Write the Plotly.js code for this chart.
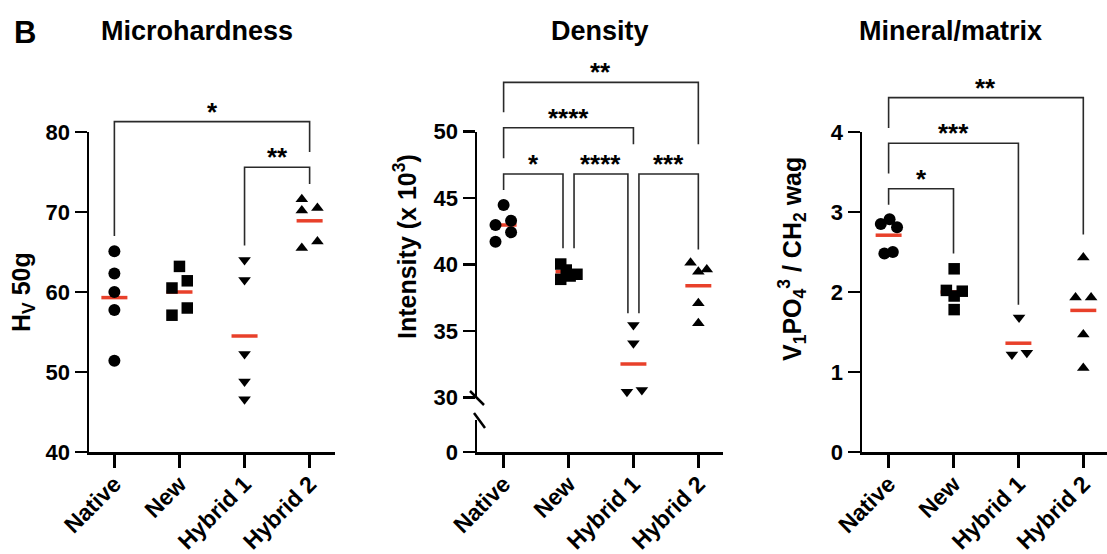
<!DOCTYPE html>
<html><head><meta charset="utf-8">
<script src="https://cdn.plot.ly/plotly-3.0.1.min.js"></script>
<style>html,body{margin:0;padding:0;background:#fff}</style>
</head><body><div id="chart" style="width:1107px;height:554px"></div>
<script>
// ---------- data ----------
const categories = ['Native', 'New', 'Hybrid 1', 'Hybrid 2'];
const panelTitles = ['Microhardness', 'Density', 'Mineral/matrix'];
const yTitles = ['H<sub>V</sub> 50g', 'Intensity (x 10<sup>3</sup>)', 'V<sub>1</sub>PO<sub>4</sub><sup>3</sup> / CH<sub>2</sub> wag'];

// Microhardness (HV 50g)
const hvNative  = [65.1, 62.3, 60.0, 57.75, 51.4];
const hvNew     = [63.2, 60.5, 61.4, 57.1, 58.0];
const hvHybrid1 = [64.0, 61.5, 52.25, 48.8, 46.6];
const hvHybrid2 = [71.6, 70.2, 70.5, 65.5, 66.3];
const hvMean    = [59.3, 60.0, 54.5, 68.9];
const hvTicks   = [40, 50, 60, 70, 80];

// Density (intensity x 10^3)
const dNative  = [44.49, 42.98, 43.31, 42.44, 41.73];
const dNew     = [40.05, 38.9, 39.6, 39.28, 39.15];
const dHybrid1 = [35.47, 34.09, 30.45, 30.58];
const dHybrid2 = [40.15, 39.47, 39.64, 37.1, 35.6];
const dMean    = [42.98, 39.47, 32.53, 38.42];
const dTicks   = [30, 35, 40, 45, 50];

// Mineral / matrix
const mNative  = [2.85, 2.91, 2.81, 2.48, 2.50];
const mNew     = [2.29, 2.02, 2.01, 1.95, 1.78];
const mHybrid1 = [1.68, 1.22, 1.24];
const mHybrid2 = [2.43, 1.93, 1.93, 1.47, 1.05];
const mMean    = [2.71, 2.0, 1.36, 1.77];
const mTicks   = [0, 1, 2, 3, 4];

// significance brackets (group index from, group index to, bar level, leg ends, label)
const hvBrFrom = [0, 2], hvBrTo = [3, 3];
const hvBrTop = [81.3, 75.6], hvBrEndL = [67.0, 65.8], hvBrEndR = [77.5, 73.5];
const hvBrLabel = ['*', '**'];

const dBrFrom = [0, 0, 0, 1, 2], dBrTo = [3, 2, 1, 2, 3];
const dBrTop = [53.71, 50.30, 46.82, 46.82, 46.82];
const dBrEndL = [51.46, 48.0, 45.62, 41.23, 36.35];
const dBrEndR = [49.05, 49.05, 41.23, 36.35, 41.15];
const dBrLabel = ['**', '****', '*', '****', '***'];

const mBrFrom = [0, 0, 0], mBrTo = [3, 2, 1];
const mBrTop = [4.43, 3.86, 3.29], mBrEndL = [4.05, 3.48, 3.09], mBrEndR = [2.72, 1.84, 2.48];
const mBrLabel = ['**', '***', '*'];

// horizontal jitter of the scatter dots (category units)
const hvJitter = [[0,0,0,0,0], [0,-0.115,0.12,-0.115,0.12], [0,0,0,0,0], [-0.12,-0.12,0.12,-0.12,0.12]];
const dJitter  = [[0,-0.125,0.115,0.115,-0.125], [-0.12,-0.12,-0.035,0.13,0.025], [0,0,-0.1,0.13], [-0.12,0,0.13,0,0]];
const mJitter  = [[-0.12,0.015,0.13,-0.065,0.065], [0.01,-0.11,0.135,0.01,0.01], [0.01,-0.1,0.13], [0,-0.12,0.12,0,0]];

// ---------- layout helpers ----------
const W = 1107, H = 554;
const FONT = 'Liberation Sans, Arial, Helvetica, sans-serif';
const px = x => x / W;
const py = y => 1 - y / H;
const symbols = ['circle', 'square', 'triangle-down', 'triangle-up'];
const sizes = [12, 11.5, 11, 11];
const RED = '#e8402a';
const BR = '#2a2a2a';

const panels = [
  {xa: 'x',  ya: 'y',  yo: 'y2', groups: [hvNative, hvNew, hvHybrid1, hvHybrid2], jitter: hvJitter, means: hvMean,
   from: hvBrFrom, to: hvBrTo, top: hvBrTop, endL: hvBrEndL, endR: hvBrEndR, label: hvBrLabel, legOff: 0},
  {xa: 'x2', ya: 'y3', yo: 'y5', groups: [dNative, dNew, dHybrid1, dHybrid2], jitter: dJitter, means: dMean,
   from: dBrFrom, to: dBrTo, top: dBrTop, endL: dBrEndL, endR: dBrEndR, label: dBrLabel, legOff: 0.085},
  {xa: 'x3', ya: 'y6', yo: 'y7', groups: [mNative, mNew, mHybrid1, mHybrid2], jitter: mJitter, means: mMean,
   from: mBrFrom, to: mBrTo, top: mBrTop, endL: mBrEndL, endR: mBrEndR, label: mBrLabel, legOff: 0}
];

const traces = [];
const annotations = [];

panels.forEach((p, pi) => {
  // mean lines
  const mx = [], my = [];
  p.means.forEach((m, i) => { mx.push(i - 0.2, i + 0.2, null); my.push(m, m, null); });
  traces.push({x: mx, y: my, xaxis: p.xa, yaxis: p.ya, mode: 'lines', line: {color: RED, width: 3.5},
               hoverinfo: 'skip', showlegend: false, cliponaxis: false});
  // dots
  p.groups.forEach((vals, gi) => {
    traces.push({
      x: vals.map((v, k) => gi + p.jitter[gi][k]), y: vals, xaxis: p.xa, yaxis: p.ya,
      mode: 'markers', cliponaxis: false, showlegend: false, hoverinfo: 'skip',
      marker: {symbol: symbols[gi], size: sizes[gi], color: '#000', line: {width: 0}}
    });
  });
  // brackets: legs are nudged apart where two brackets meet at the same group on one level
  const bx = [], by = [];
  p.from.forEach((a, i) => {
    const b = p.to[i];
    let xl = a, xr = b;
    if (p.legOff) {
      const lvl = p.top[i];
      p.from.forEach((a2, j) => { if (j !== i && p.top[j] === lvl) {
        if (a2 === b) xr = b - p.legOff;
        if (p.to[j] === a) xl = a + p.legOff;
      }});
    }
    bx.push(xl, xl, xr, xr, null);
    by.push(p.endL[i], p.top[i], p.top[i], p.endR[i], null);
    annotations.push({x: (xl + xr) / 2, y: p.top[i], xref: p.xa, yref: p.yo, text: p.label[i],
      showarrow: false, xanchor: 'center', yanchor: 'bottom', yshift: -7,
      font: {family: FONT, size: 26, color: '#000', weight: 'bold'}});
  });
  traces.push({x: bx, y: by, xaxis: p.xa, yaxis: p.yo, mode: 'lines', line: {color: BR, width: 1.6},
               hoverinfo: 'skip', showlegend: false});
});
// helper so the short lower segment of the broken density axis gets its own subplot
traces.push({x: [null], y: [null], xaxis: 'x2', yaxis: 'y4', mode: 'markers', showlegend: false, hoverinfo: 'skip'});

// ---------- axes ----------
const tickFont = {family: FONT, size: 22, color: '#000', weight: 'bold'};
const xTickFont = {family: FONT, size: 23, color: '#000', weight: 'bold'};
const yBot = py(452), yTop = py(132);
const baseX = {showline: true, linewidth: 2.5, linecolor: '#000', ticks: 'outside', ticklen: 13, tickwidth: 2.5,
  tickcolor: '#000', tickvals: [0, 1, 2, 3], ticktext: categories, tickangle: -45, tickfont: xTickFont,
  ticklabelstandoff: -6, showgrid: false, zeroline: false, fixedrange: true};
const baseY = {showline: true, linewidth: 2.5, linecolor: '#000', ticks: 'outside', ticklen: 12, tickwidth: 2.5,
  tickcolor: '#000', tickfont: tickFont, showgrid: false, zeroline: false, fixedrange: true};
const hidden = {visible: false, showgrid: false, zeroline: false, fixedrange: true};

const dUpBot = py(397.7), dUpTop = py(131.7), dLowTop = py(420);

const layout = {
  width: W, height: H, autosize: false,
  margin: {l: 0, r: 0, t: 0, b: 0},
  paper_bgcolor: '#fff', plot_bgcolor: 'rgba(0,0,0,0)',
  showlegend: false,
  font: {family: FONT, color: '#000'},
  xaxis:  Object.assign({}, baseX, {domain: [px(89), px(335)], range: [-0.39, 3.39], anchor: 'y'}),
  yaxis:  Object.assign({}, baseY, {domain: [yBot, yTop], range: [hvTicks[0], hvTicks[hvTicks.length - 1]], tickvals: hvTicks, anchor: 'x'}),
  yaxis2: Object.assign({}, hidden, {domain: [yBot, 1], range: [40, 40 + 40 * (1 - yBot) / (yTop - yBot)], anchor: 'x'}),

  xaxis2: Object.assign({}, baseX, {domain: [px(477), px(723)], range: [-0.41, 3.38], anchor: 'y4'}),
  yaxis3: Object.assign({}, baseY, {domain: [dUpBot, dUpTop], range: [30, 50], tickvals: dTicks, anchor: 'x2'}),
  yaxis4: Object.assign({}, baseY, {domain: [yBot, dLowTop], range: [0, 5], tickvals: [0], anchor: 'x2'}),
  yaxis5: Object.assign({}, hidden, {domain: [dUpBot, 1], range: [30, 30 + 20 * (1 - dUpBot) / (dUpTop - dUpBot)], anchor: 'x2'}),

  xaxis3: Object.assign({}, baseX, {domain: [px(862), 1], range: [-0.41, 3.365], anchor: 'y6'}),
  yaxis6: Object.assign({}, baseY, {domain: [yBot, yTop], range: [0, 4], tickvals: mTicks, anchor: 'x3'}),
  yaxis7: Object.assign({}, hidden, {domain: [yBot, 1], range: [0, 4 * (1 - yBot) / (yTop - yBot)], anchor: 'x3'}),

  shapes: [
    // axis-break marks on the density y axis
    {type: 'line', xref: 'paper', yref: 'paper', x0: px(470), y0: py(391), x1: px(484), y1: py(405), line: {color: '#000', width: 2.5}},
    {type: 'line', xref: 'paper', yref: 'paper', x0: px(474), y0: py(413), x1: px(485), y1: py(428), line: {color: '#000', width: 2.5}}
  ],
  annotations: annotations.concat([
    {text: 'B', x: px(25), y: py(32), xref: 'paper', yref: 'paper', showarrow: false, xanchor: 'center', yanchor: 'middle',
     font: {family: FONT, size: 31, weight: 'bold', color: '#000'}},
    {text: panelTitles[0], x: px(197), y: py(31), xref: 'paper', yref: 'paper', showarrow: false, xanchor: 'center', yanchor: 'middle',
     font: {family: FONT, size: 27, weight: 'bold', color: '#000'}},
    {text: panelTitles[1], x: px(600), y: py(31), xref: 'paper', yref: 'paper', showarrow: false, xanchor: 'center', yanchor: 'middle',
     font: {family: FONT, size: 27, weight: 'bold', color: '#000'}},
    {text: panelTitles[2], x: px(950), y: py(31), xref: 'paper', yref: 'paper', showarrow: false, xanchor: 'center', yanchor: 'middle',
     font: {family: FONT, size: 27, weight: 'bold', color: '#000'}},
    {text: yTitles[0], x: px(23), y: py(292), xref: 'paper', yref: 'paper', showarrow: false, textangle: -90,
     xanchor: 'center', yanchor: 'middle', font: {family: FONT, size: 25, weight: 'bold', color: '#000'}},
    {text: yTitles[1], x: px(405), y: py(247), xref: 'paper', yref: 'paper', showarrow: false, textangle: -90,
     xanchor: 'center', yanchor: 'middle', font: {family: FONT, size: 25, weight: 'bold', color: '#000'}},
    {text: yTitles[2], x: px(792), y: py(259), xref: 'paper', yref: 'paper', showarrow: false, textangle: -90,
     xanchor: 'center', yanchor: 'middle', font: {family: FONT, size: 25, weight: 'bold', color: '#000'}}
  ])
};

Plotly.newPlot('chart', traces, layout, {staticPlot: true, displayModeBar: false});
</script></body></html>
